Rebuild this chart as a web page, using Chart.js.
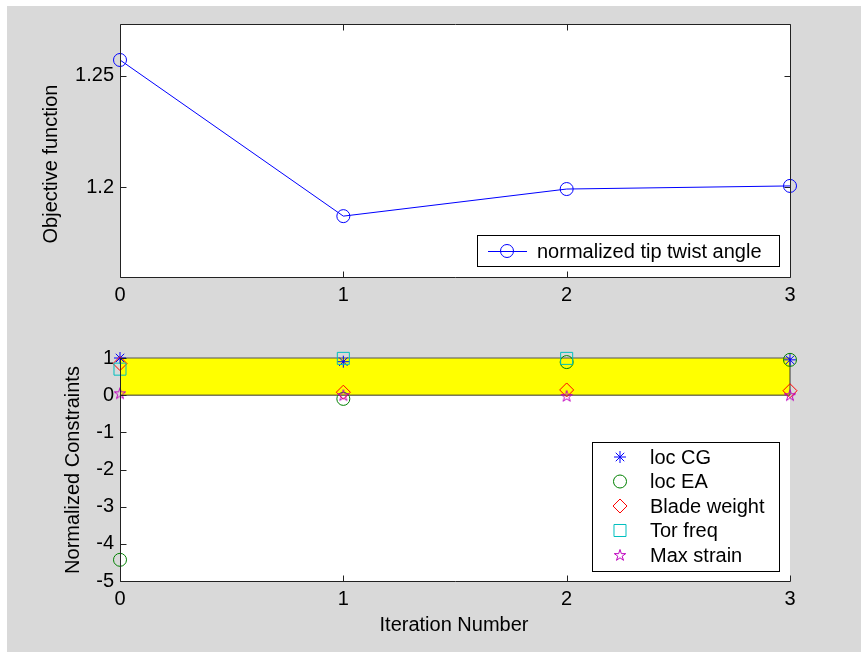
<!DOCTYPE html>
<html>
<head>
<meta charset="utf-8">
<script src="https://cdn.jsdelivr.net/npm/chart.js@4"></script>
<style>
  html, body { margin: 0; padding: 0; background: #ffffff; width: 861px; height: 652px; overflow: hidden; }
  #bg { position: absolute; left: 7px; top: 6px; width: 854px; height: 646px; background: #d9d9d9; }
  canvas { position: absolute; left: 0; }
  #c1 { top: 0px; }
  #c2 { top: 320px; }
</style>
</head>
<body>
<div id="bg"></div>
<canvas id="c1" width="861" height="320"></canvas>
<canvas id="c2" width="861" height="332"></canvas>
<script>
// ---------- data ----------
const iterations = [0, 1, 2, 3];
const objectiveValues = [1.2572, 1.1869, 1.1991, 1.2005];
const objectiveLabel = 'normalized tip twist angle';
const objYTicks = [1.2, 1.25];

// null = point not visible in the reference (outside the axes)
const constraintNames = ['loc CG', 'loc EA', 'Blade weight', 'Tor freq', 'Max strain'];
const locCG       = [1.0, 0.90, null, 0.95];
const locEA       = [-4.43, -0.10, 0.89, 0.95];
const bladeWeight = [0.85, 0.08, 0.14, 0.12];
const torFreq     = [0.70, 0.99, 0.99, null];
const maxStrain   = [0.05, 0.00, -0.02, 0.00];
const feasibleBand = [0, 1];
const conYTicks = [-5, -4, -3, -2, -1, 0, 1];
const xTicks = [0, 1, 2, 3];

const FONT = '"Liberation Sans", Arial, Helvetica, sans-serif';
const FS = 20;
const AXC = '#222222';

// pentagram marker image
function pentagram(color, size) {
  const c = document.createElement('canvas');
  c.width = size; c.height = size;
  const g = c.getContext('2d');
  const cx = size / 2, cy = size / 2 + 0.5, R = size / 2 - 1, r = R * 0.382;
  g.beginPath();
  for (let i = 0; i < 10; i++) {
    const rad = (i % 2 === 0) ? R : r;
    const a = -Math.PI / 2 + i * Math.PI / 5;
    const x = cx + rad * Math.cos(a), y = cy + rad * Math.sin(a);
    if (i === 0) g.moveTo(x, y); else g.lineTo(x, y);
  }
  g.closePath();
  g.strokeStyle = color; g.lineWidth = 1; g.stroke();
  return c;
}
const starImg = pentagram('#bf00bf', 14);

function pts(ys) {
  return iterations.map((x, i) => ({ x: x, y: ys[i] })).filter(p => p.y !== null);
}

// ---------- shared plugin: white area, box, inward ticks, titles, legend ----------
function framePlugin(cfg) {
  return {
    id: 'frame_' + cfg.name,
    beforeDatasetsDraw(chart) {
      const ctx = chart.ctx, a = chart.chartArea;
      ctx.save();
      ctx.fillStyle = '#ffffff';
      ctx.fillRect(a.left, a.top, a.right - a.left, a.bottom - a.top);
      ctx.restore();
    },
    afterDraw(chart) {
      const ctx = chart.ctx;
      const a = chart.chartArea;
      const xs = chart.scales.x, ys = chart.scales.y;
      ctx.save();
      ctx.strokeStyle = AXC;
      ctx.lineWidth = 1;
      const L = Math.round(a.left) + 0.5, R = Math.round(a.right) + 0.5;
      const T = Math.round(a.top) + 0.5, B = Math.round(a.bottom) + 0.5;
      ctx.beginPath();
      ctx.moveTo(L, T); ctx.lineTo(L, B); ctx.lineTo(R, B);
      if (cfg.box) { ctx.lineTo(R, T); ctx.lineTo(L, T); }
      ctx.stroke();
      // inward ticks
      ctx.beginPath();
      xs.ticks.forEach(t => {
        const px = Math.round(xs.getPixelForValue(t.value)) + 0.5;
        ctx.moveTo(px, B); ctx.lineTo(px, B - 6);
        if (cfg.box) { ctx.moveTo(px, T); ctx.lineTo(px, T + 6); }
      });
      ys.ticks.forEach(t => {
        const py = Math.round(ys.getPixelForValue(t.value)) + 0.5;
        ctx.moveTo(L, py); ctx.lineTo(L + 6, py);
        if (cfg.box) { ctx.moveTo(R, py); ctx.lineTo(R - 6, py); }
      });
      ctx.stroke();
      // axis titles
      ctx.fillStyle = '#000';
      ctx.font = FS + 'px ' + FONT;
      ctx.textAlign = 'center';
      ctx.textBaseline = 'middle';
      if (cfg.yTitle) {
        ctx.save();
        ctx.translate(cfg.yTitle.x, cfg.yTitle.y);
        ctx.rotate(-Math.PI / 2);
        ctx.fillText(cfg.yTitle.text, 0, 0);
        ctx.restore();
      }
      if (cfg.xTitle) {
        ctx.fillText(cfg.xTitle.text, cfg.xTitle.x, cfg.xTitle.y);
      }
      // legend
      if (cfg.legend) {
        const lg = cfg.legend;
        ctx.fillStyle = '#ffffff';
        ctx.fillRect(lg.x, lg.y, lg.w, lg.h);
        ctx.strokeStyle = '#000';
        ctx.strokeRect(lg.x + 0.5, lg.y + 0.5, lg.w, lg.h);
        lg.items.forEach((it, i) => {
          const ds = chart.data.datasets[it.ds];
          const cy = lg.y + lg.firstY + i * lg.step;
          ctx.strokeStyle = ds.borderColor;
          if (lg.line) {
            ctx.beginPath();
            ctx.moveTo(lg.x + lg.lineX0, cy + 0.5);
            ctx.lineTo(lg.x + lg.lineX1, cy + 0.5);
            ctx.lineWidth = 1;
            ctx.stroke();
          }
          ctx.fillStyle = 'rgba(0,0,0,0)';
          Chart.helpers.drawPoint(ctx, {
            pointStyle: ds.pointStyle,
            radius: ds.pointRadius,
            rotation: 0,
            borderWidth: ds.pointBorderWidth || 1
          }, lg.x + lg.markX, cy);
          ctx.fillStyle = '#000';
          ctx.textAlign = 'left';
          ctx.textBaseline = 'middle';
          ctx.fillText(it.text, lg.x + lg.textX, cy + 1);
        });
      }
      ctx.restore();
    }
  };
}

const tickFont = { family: FONT, size: FS };

// ---------- top chart ----------
new Chart(document.getElementById('c1'), {
  type: 'scatter',
  data: {
    datasets: [{
      label: objectiveLabel,
      data: pts(objectiveValues),
      showLine: true,
      borderColor: '#0000ff',
      backgroundColor: 'rgba(0,0,0,0)',
      borderWidth: 1,
      pointStyle: 'circle',
      pointRadius: 6.5,
      pointBorderWidth: 1,
      pointBackgroundColor: 'rgba(0,0,0,0)',
      pointBorderColor: '#0000ff'
    }]
  },
  options: {
    responsive: false,
    animation: false,
    clip: false,
    layout: { padding: { left: 0, right: 71, top: 24, bottom: 3 } },
    plugins: { legend: { display: false }, tooltip: { enabled: false } },
    scales: {
      x: {
        type: 'linear', min: 0, max: 3,
        afterBuildTicks: s => { s.ticks = xTicks.map(v => ({ value: v })); },
        afterFit: s => { s.height = 40; },
        grid: { display: false, drawTicks: false },
        border: { display: false },
        ticks: { font: tickFont, color: '#000', padding: 6, callback: v => String(v), maxRotation: 0 }
      },
      y: {
        type: 'linear', min: 1.1595, max: 1.2734,
        afterBuildTicks: s => { s.ticks = objYTicks.map(v => ({ value: v })); },
        afterFit: s => { s.width = 120; },
        grid: { display: false, drawTicks: false },
        border: { display: false },
        ticks: { font: tickFont, color: '#000', padding: 6, callback: v => String(v) }
      }
    }
  },
  plugins: [framePlugin({
    name: 'top', box: true,
    yTitle: { text: 'Objective function', x: 51, y: 164 },
    legend: {
      x: 477, y: 235, w: 302, h: 31, firstY: 16, step: 0, line: true,
      lineX0: 11, lineX1: 50, markX: 30, textX: 60,
      items: [{ ds: 0, text: objectiveLabel }]
    }
  })]
});

// ---------- bottom chart ----------
const markerSets = [
  { data: locCG,       style: 'star',    color: '#0000ff', r: 6 },
  { data: locEA,       style: 'circle',  color: '#008000', r: 6.5 },
  { data: bladeWeight, style: 'rectRot', color: '#ff0000', r: 7 },
  { data: torFreq,     style: 'rect',    color: '#00bfbf', r: 8.5 },
  { data: maxStrain,   style: starImg,   color: '#bf00bf', r: 7 }
];

const conDatasets = [
  {
    label: 'band-top',
    data: [{ x: iterations[0], y: feasibleBand[1] }, { x: iterations[iterations.length - 1], y: feasibleBand[1] }],
    showLine: true, pointRadius: 0, borderColor: '#555555', borderWidth: 1,
    backgroundColor: '#ffff00', fill: '+1', order: 100
  },
  {
    label: 'band-bottom',
    data: [{ x: iterations[0], y: feasibleBand[0] }, { x: iterations[iterations.length - 1], y: feasibleBand[0] }, { x: iterations[iterations.length - 1], y: feasibleBand[1] }],
    showLine: true, pointRadius: 0, borderColor: '#333333', borderWidth: 1,
    backgroundColor: 'rgba(0,0,0,0)', fill: false, order: 99
  }
].concat(markerSets.map((m, i) => ({
  label: constraintNames[i],
  data: pts(m.data),
  showLine: false,
  borderColor: m.color,
  backgroundColor: 'rgba(0,0,0,0)',
  pointStyle: m.style,
  pointRadius: m.r,
  pointBorderWidth: 1,
  pointBorderColor: m.color,
  pointBackgroundColor: 'rgba(0,0,0,0)',
  order: 10 - i
})));

new Chart(document.getElementById('c2'), {
  type: 'scatter',
  data: { datasets: conDatasets },
  options: {
    responsive: false,
    animation: false,
    clip: false,
    layout: { padding: { left: 0, right: 71, top: 38, bottom: 31 } },
    plugins: { legend: { display: false }, tooltip: { enabled: false }, filler: { propagate: false } },
    scales: {
      x: {
        type: 'linear', min: 0, max: 3,
        afterBuildTicks: s => { s.ticks = xTicks.map(v => ({ value: v })); },
        afterFit: s => { s.height = 40; },
        grid: { display: false, drawTicks: false },
        border: { display: false },
        ticks: { font: tickFont, color: '#000', padding: 6, callback: v => String(v), maxRotation: 0 }
      },
      y: {
        type: 'linear', min: -5, max: 1,
        afterBuildTicks: s => { s.ticks = conYTicks.map(v => ({ value: v })); },
        afterFit: s => { s.width = 120; },
        grid: { display: false, drawTicks: false },
        border: { display: false },
        ticks: { font: tickFont, color: '#000', padding: 6, callback: v => String(v) }
      }
    }
  },
  plugins: [framePlugin({
    name: 'bottom', box: false,
    yTitle: { text: 'Normalized Constraints', x: 73, y: 150 },
    xTitle: { text: 'Iteration Number', x: 454, y: 305 },
    legend: {
      x: 592, y: 122, w: 187, h: 129, firstY: 15, step: 24.5, line: false,
      markX: 28, textX: 58,
      items: [2, 3, 4, 5, 6].map((d, i) => ({ ds: d, text: constraintNames[i] }))
    }
  })]
});
</script>
</body>
</html>
